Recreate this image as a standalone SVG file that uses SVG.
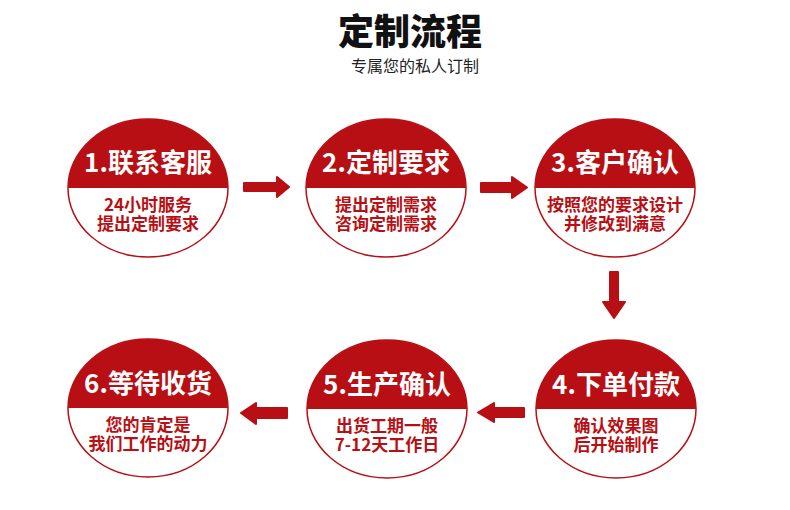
<svg xmlns="http://www.w3.org/2000/svg" width="790" height="510" viewBox="0 0 790 510">
<defs>
<style>
.bg{fill:#ffffff}
.ring{fill:#ffffff;stroke:#b80f14;stroke-width:1.5}
.cap{fill:#b80f14}
.ttl{font-family:"Noto Sans CJK SC","Noto Sans",sans-serif;font-weight:bold;font-size:26px;fill:#ffffff;text-anchor:middle}
.sub{font-family:"Noto Sans CJK SC","Noto Sans",sans-serif;font-weight:bold;font-size:17px;fill:#b80f14;text-anchor:middle}
.arrow{fill:#b80f14;stroke:#b80f14;stroke-width:2;stroke-linejoin:round}
.h1{font-family:"Noto Sans CJK SC","Noto Sans",sans-serif;font-weight:900;font-size:36px;fill:#111111;text-anchor:middle}
.h2{font-family:"Noto Sans CJK SC","Noto Sans",sans-serif;font-size:16px;fill:#222222;text-anchor:middle}
</style>
</defs>
<rect class="bg" x="0" y="0" width="790" height="510"/>
<g id="title">
<text class="h1" x="410" y="45">定制流程</text>
<text class="h2" x="415" y="72">专属您的私人订制</text>
</g>
<g id="connectors">
<path class="arrow" d="M244,183 L277,183 L277,177 L289,187 L277,197 L277,191 L244,191 Z"/>
<path class="arrow" d="M481,183 L512,183 L512,177 L527,187.5 L512,198 L512,192 L481,192 Z"/>
<path class="arrow" d="M610,272 L618,272 L618,302 L625,302 L614,318 L603,302 L610,302 Z"/>
<path class="arrow" d="M524,408 L494,408 L494,403 L478,412.5 L494,422 L494,417 L524,417 Z"/>
<path class="arrow" d="M287,408 L256,408 L256,403 L241,413 L256,424 L256,418 L287,418 Z"/>
</g>
<g id="step1">
<ellipse class="ring" cx="148" cy="188" rx="80" ry="69"/>
<path class="cap" d="M68,188 A80,69 0 0 1 228,188 Z"/>
<text class="ttl" x="148" y="172">1.联系客服</text>
<text class="sub" x="148" y="211">24小时服务<tspan x="148" dy="19">提出定制要求</tspan></text>
</g>
<g id="step2">
<ellipse class="ring" cx="386" cy="188" rx="80" ry="69"/>
<path class="cap" d="M306,188 A80,69 0 0 1 466,188 Z"/>
<text class="ttl" x="386" y="172">2.定制要求</text>
<text class="sub" x="386" y="211">提出定制需求<tspan x="386" dy="19">咨询定制需求</tspan></text>
</g>
<g id="step3">
<ellipse class="ring" cx="615" cy="188" rx="80" ry="69"/>
<path class="cap" d="M535,188 A80,69 0 0 1 695,188 Z"/>
<text class="ttl" x="615" y="172">3.客户确认</text>
<text class="sub" x="615" y="211">按照您的要求设计<tspan x="615" dy="19">并修改到满意</tspan></text>
</g>
<g id="step4">
<ellipse class="ring" cx="616" cy="409" rx="80" ry="69"/>
<path class="cap" d="M536,409 A80,69 0 0 1 696,409 Z"/>
<text class="ttl" x="616" y="394">4.下单付款</text>
<text class="sub" x="616" y="432">确认效果图<tspan x="616" dy="19">后开始制作</tspan></text>
</g>
<g id="step5">
<ellipse class="ring" cx="387" cy="409" rx="80" ry="69"/>
<path class="cap" d="M307,409 A80,69 0 0 1 467,409 Z"/>
<text class="ttl" x="387" y="394">5.生产确认</text>
<text class="sub" x="387" y="432">出货工期一般<tspan x="387" dy="19">7-12天工作日</tspan></text>
</g>
<g id="step6">
<ellipse class="ring" cx="148" cy="408" rx="80" ry="69"/>
<path class="cap" d="M68,408 A80,69 0 0 1 228,408 Z"/>
<text class="ttl" x="148" y="393">6.等待收货</text>
<text class="sub" x="148" y="431">您的肯定是<tspan x="148" dy="19">我们工作的动力</tspan></text>
</g>
</svg>
